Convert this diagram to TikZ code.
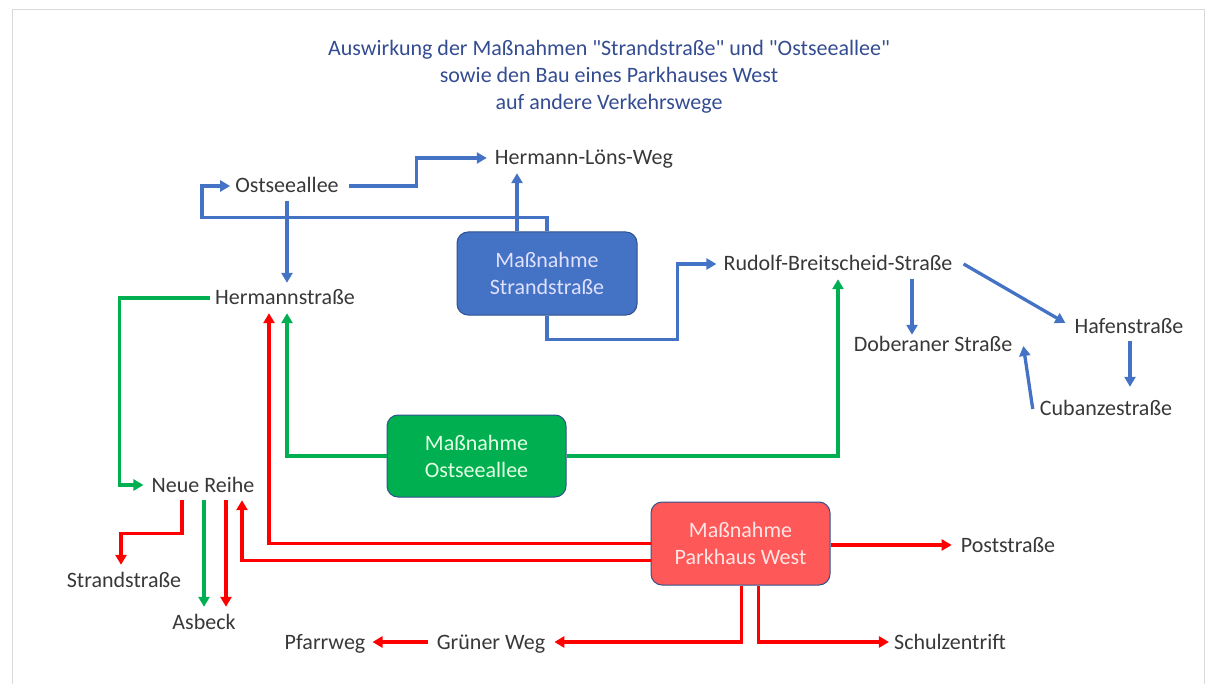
\documentclass[tikz,border=0pt]{standalone}
\usepackage{fontspec}
\setmainfont{Carlito}
\usetikzlibrary{arrows.meta}
\definecolor{textgray}{RGB}{56,56,56}
\definecolor{titleblue}{RGB}{52,76,145}
\definecolor{strandfill}{RGB}{68,114,196}
\definecolor{ostfill}{RGB}{0,176,80}
\definecolor{parkfill}{RGB}{255,88,88}
\definecolor{boxedge}{RGB}{47,82,143}
\definecolor{lineblue}{RGB}{68,114,196}
\definecolor{linegreen}{RGB}{0,176,80}
\definecolor{linered}{RGB}{255,0,0}
\tikzstyle{street} = [text=textgray, font=\fontsize{22}{26}\selectfont, inner sep=5pt, text height=17pt, text depth=3pt]
\tikzstyle{measure} = [rectangle, rounded corners=11pt, minimum width=180pt, minimum height=83pt, align=center, draw=boxedge, line width=1pt, font=\fontsize{22}{27}\selectfont]
\tikzstyle{heading} = [align=center, text=titleblue, font=\fontsize{22}{27}\selectfont]
\tikzstyle{arrow} = [line width=3.3pt, -{Triangle[length=10pt,width=11pt]}]
\tikzstyle{bluearrow} = [arrow, lineblue]
\tikzstyle{greenarrow} = [arrow, linegreen]
\tikzstyle{redarrow} = [arrow, linered]

\begin{document}
\begin{tikzpicture}[x=1pt,y=-1pt]
\useasboundingbox (0,0) rectangle (1206,684);

% Page frame
\draw[black!15, line width=1pt] (12,684) -- (12,10) -- (1204,10) -- (1204,684);

% Title
\node (title) [heading] at (609,77) {Auswirkung der Maßnahmen \textquotedbl Strandstraße\textquotedbl{} und \textquotedbl Ostseeallee\textquotedbl\\sowie den Bau eines Parkhauses West\\auf andere Verkehrswege};

% Measures
\node (strand) [measure, fill=strandfill, text=blue!12!white] at (547,273.5) {Maßnahme\\Strandstraße};
\node (ostbox) [measure, fill=ostfill, text=green!10!white, minimum width=179pt, minimum height=82pt] at (476.5,456) {Maßnahme\\Ostseeallee};
\node (parkbox) [measure, fill=parkfill, text=red!10!white, minimum width=179pt] at (740.5,543.5) {Maßnahme\\Parkhaus West};

% Streets
\node (ostsee) [street] at (287,186) {Ostseeallee};
\node (loens) [street] at (584,158) {Hermann-Löns-Weg};
\node (hermann) [street] at (285,298) {Hermannstraße};
\node (rudolf) [street] at (838,264) {Rudolf-Breitscheid-Straße};
\node (doberan) [street] at (933,344) {Doberaner Straße};
\node (hafen) [street] at (1129,326) {Hafenstraße};
\node (cubanze) [street] at (1106,408) {Cubanzestraße};
\node (neue) [street] at (203,485) {Neue Reihe};
\node (strandl) [street] at (124,580) {Strandstraße};
\node (asbeck) [street] at (204,622) {Asbeck};
\node (pfarr) [street] at (325,642) {Pfarrweg};
\node (gruen) [street] at (491,642) {Grüner Weg};
\node (schul) [street] at (950,642) {Schulzentrift};
\node (post) [street] at (1008,545) {Poststraße};

% Arrows of Strandstraße
\draw [bluearrow] ([xshift=5pt]ostsee.east) -| ([xshift=-73pt]loens.west) -- ([xshift=-3pt]loens.west);
\draw [bluearrow] (strand.north) -- ++(0,-14) -| ([xshift=-28pt]ostsee.west) -- (ostsee.west);
\draw [bluearrow] ([xshift=-30pt]strand.north) -- ([xshift=-30pt]strand.north |- loens.south);
\draw [bluearrow] (ostsee.south) -- (ostsee.south |- hermann.north);
\draw [bluearrow] (strand.south) -- ++(0,24) -| ([xshift=-41pt]rudolf.west) -- ([xshift=-2pt]rudolf.west);
\draw [bluearrow] ([xshift=74pt]rudolf.south) -- ([xshift=74pt,yshift=-6pt]rudolf.south |- doberan.north);
\draw [bluearrow] ([xshift=6pt]rudolf.east) -- ([xshift=-4pt,yshift=3pt]hafen.west);
\draw [bluearrow] ([xshift=1pt]hafen.south) -- ([xshift=1pt,yshift=6pt]hafen.south |- cubanze.north);
\draw [bluearrow] ([xshift=-2pt,yshift=-1pt]cubanze.west) -- ([xshift=6pt,yshift=-2pt]doberan.east);

% Arrows of Ostseeallee
\draw [greenarrow] (hermann.west) -| ([xshift=-27pt]neue.west) -- ([xshift=-3pt]neue.west);
\draw [greenarrow] (ostbox.west) -| ([xshift=2pt]hermann.south);
\draw [greenarrow] (ostbox.east) -| (rudolf.south);
\draw [greenarrow] ([xshift=1pt]neue.south) -- ([xshift=1pt]neue.south |- asbeck.north);

% Arrows of Parkhaus West
\draw [redarrow] ([xshift=-21pt]neue.south) |- ([xshift=-3pt,yshift=31pt]strandl.north) -- ([xshift=-3pt]strandl.north);
\draw [redarrow] ([xshift=23pt]neue.south) -- ([xshift=23pt]neue.south |- asbeck.north);
\draw [redarrow] ([yshift=-17pt]parkbox.west) -| ([xshift=39pt]neue.south);
\draw [redarrow] (parkbox.west) -| ([xshift=-16pt]hermann.south);
\draw [redarrow] (parkbox.east |- post.west) -- ([xshift=-4pt]post.west);
\draw [redarrow] ([xshift=1pt]parkbox.south) |- ([xshift=4pt]gruen.east);
\draw [redarrow] ([xshift=18pt]parkbox.south) |- (schul.west);
\draw [redarrow] ([xshift=-4pt]gruen.west) -- ([xshift=2pt]pfarr.east);

\end{tikzpicture}
\end{document}
